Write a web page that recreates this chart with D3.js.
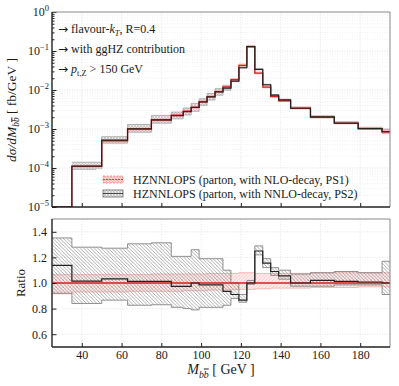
<!DOCTYPE html>
<html><head><meta charset="utf-8">
<script src="https://cdn.jsdelivr.net/npm/d3@7"></script>
<style>
body{margin:0;background:#fff;}
</style></head><body>
<svg id="c" width="399" height="386"></svg>
<script>
// ---------------- data ----------------
const binEdges   = [25,35,50,63,75,85,91,95,99,103,107,111,115,119,123,127,131,135,139,145,155,167,179,191,200];
// NLO-decay (PS1) central value, fb/GeV
const nloCentral = [1e-7,1.1e-4,5.0e-4,1.0e-3,1.7e-3,2.25e-3,2.85e-3,3.6e-3,5.0e-3,6.8e-3,9.1e-3,1.2e-2,1.85e-2,4.3e-2,0.13,2.7e-2,1.18e-2,6.8e-3,5.3e-3,3.4e-3,2.0e-3,1.4e-3,1.02e-3,8.5e-4];
// NNLO-decay (PS2) / NLO-decay ratio
const nnloRatio  = [1.138,1.015,1.033,1.013,1.013,0.973,0.973,1.0,0.985,0.985,0.985,0.935,0.91,0.866,1.0,1.25,1.155,1.09,1.055,1.0,1.02,1.013,1.008,1.0];
// uncertainty bands relative to NLO central
const nloBandLo  = [0.915,0.93,0.93,0.935,0.935,0.935,0.94,0.94,0.94,0.945,0.945,0.945,0.95,0.95,0.95,0.955,0.955,0.96,0.96,0.96,0.965,0.965,0.97,0.97];
const nloBandHi  = [1.065,1.065,1.065,1.065,1.07,1.07,1.07,1.07,1.07,1.075,1.075,1.075,1.075,1.08,1.08,1.075,1.075,1.075,1.075,1.075,1.08,1.08,1.08,1.08];
const nnloBandLo = [0.92,0.84,0.866,0.826,0.83,0.81,0.80,0.79,0.81,0.81,0.81,0.826,0.88,0.85,0.99,1.22,1.12,1.06,1.03,0.975,0.975,0.985,0.985,0.91];
const nnloBandHi = [1.352,1.28,1.272,1.306,1.314,1.208,1.208,1.26,1.19,1.19,1.19,1.10,1.0,0.91,1.02,1.29,1.19,1.12,1.10,1.07,1.08,1.09,1.08,1.17];
const xTicks     = [40,60,80,100,120,140,160,180];
const ratioTicks = [0.6,0.8,1.0,1.2,1.4];
const logMajor   = [1e-5,1e-4,1e-3,1e-2,1e-1,1];
const logExp     = ["−5","−4","−3","−2","−1","0"];
const legendLabels = ["HZNNLOPS (parton, with NLO-decay, PS1)","HZNNLOPS (parton, with NNLO-decay, PS2)"];

// ---------------- layout ----------------
const FONT="'Liberation Serif','DejaVu Serif',serif";
const L=52,R=390,TT=12,TB=207,RT=219,RB=347;
const svg=d3.select("#c").attr("font-family",FONT);
const x=d3.scaleLinear().domain([25,195]).range([L,R]);
const yTop=d3.scaleLog().domain([1e-5,1]).range([TB,TT]).clamp(true);
const yRat=d3.scaleLinear().domain([0.5,1.5]).range([RB,RT]);
const RED="#d92020", BLK="#222";

const defs=svg.append("defs");
function clip(id,y0,y1){defs.append("clipPath").attr("id",id).append("rect").attr("x",L).attr("y",y0).attr("width",R-L).attr("height",y1-y0);}
clip("cTop",TT,TB); clip("cRat",RT,RB);
let p=defs.append("pattern").attr("id","pGrayX").attr("patternUnits","userSpaceOnUse").attr("width",3).attr("height",3);
p.append("rect").attr("width",3).attr("height",3).attr("fill","#eeeeee");
p.append("path").attr("d","M0,0L3,3M3,0L0,3").attr("stroke","#a8a8a8").attr("stroke-width",0.5);
p=defs.append("pattern").attr("id","pRedX").attr("patternUnits","userSpaceOnUse").attr("width",3).attr("height",3);
p.append("rect").attr("width",3).attr("height",3).attr("fill","#fcdada");
p.append("path").attr("d","M0,0L3,3M3,0L0,3").attr("stroke","#f09a9a").attr("stroke-width",0.5);
p=defs.append("pattern").attr("id","pGrayB").attr("patternUnits","userSpaceOnUse").attr("width",3.5).attr("height",3.5);
p.append("path").attr("d","M0,0L3.5,3.5M-1,2.5L1,4.5M2.5,-1L4.5,1").attr("stroke","#8c8c8c").attr("stroke-width",0.7);
p=defs.append("pattern").attr("id","pPinkF").attr("patternUnits","userSpaceOnUse").attr("width",3.5).attr("height",3.5);
p.append("rect").attr("width",3.5).attr("height",3.5).attr("fill","#fdeeee");
p.append("path").attr("d","M0,3.5L3.5,0M-1,1L1,-1M2.5,4.5L4.5,2.5").attr("stroke","#f6b4b4").attr("stroke-width",0.7);

// step helpers
function pts(vals,start=0){const a=[];for(let i=start;i<vals.length;i++)a.push({e:binEdges[i],v:vals[i]});a.push({e:binEdges[vals.length],v:vals[vals.length-1]});return a;}
function bandPts(lo,hi,start=0){const a=[];for(let i=start;i<lo.length;i++)a.push({e:binEdges[i],lo:lo[i],hi:hi[i]});const n=lo.length;a.push({e:binEdges[n],lo:lo[n-1],hi:hi[n-1]});return a;}
const lineF=y=>d3.line().x(d=>x(d.e)).y(d=>y(d.v)).curve(d3.curveStepAfter);
const areaF=y=>d3.area().x(d=>x(d.e)).y0(d=>y(d.lo)).y1(d=>y(d.hi)).curve(d3.curveStepAfter);

// ---------------- grids ----------------
const minors=[];for(let e=-5;e<0;e++)for(let k=2;k<10;k++)minors.push(k*Math.pow(10,e));
const grid=svg.append("g").attr("stroke","#d4d4d4").attr("stroke-width",0.6).attr("stroke-dasharray","1,1.5");
[...logMajor.slice(1,-1),...minors].forEach(v=>grid.append("line").attr("x1",L).attr("x2",R).attr("y1",yTop(v)).attr("y2",yTop(v)).attr("stroke",logMajor.includes(v)?"#cfcfcf":"#e8e8e8"));
ratioTicks.forEach(v=>grid.append("line").attr("x1",L).attr("x2",R).attr("y1",yRat(v)).attr("y2",yRat(v)));
xTicks.forEach(v=>{grid.append("line").attr("x1",x(v)).attr("x2",x(v)).attr("y1",TT).attr("y2",TB);grid.append("line").attr("x1",x(v)).attr("x2",x(v)).attr("y1",RT).attr("y2",RB);});

// ---------------- top panel ----------------
const gTop=svg.append("g").attr("clip-path","url(#cTop)");
const nloLoAbs=nloCentral.map((c,i)=>c*nloBandLo[i]), nloHiAbs=nloCentral.map((c,i)=>c*nloBandHi[i]);
const nnLoAbs=nloCentral.map((c,i)=>c*nnloBandLo[i]), nnHiAbs=nloCentral.map((c,i)=>c*nnloBandHi[i]);
const nnCentral=nloCentral.map((c,i)=>c*nnloRatio[i]);
gTop.append("path").attr("d",areaF(yTop)(bandPts(nnLoAbs,nnHiAbs,1))).attr("fill","url(#pGrayX)");
gTop.append("path").attr("d",areaF(yTop)(bandPts(nloLoAbs,nloHiAbs,1))).attr("fill","url(#pRedX)").attr("opacity",0.85);
[nnLoAbs,nnHiAbs].forEach(a=>gTop.append("path").attr("d",lineF(yTop)(pts(a,1))).attr("fill","none").attr("stroke","#888").attr("stroke-width",0.6));
[nloLoAbs,nloHiAbs].forEach(a=>gTop.append("path").attr("d",lineF(yTop)(pts(a,1))).attr("fill","none").attr("stroke","#f3a0a0").attr("stroke-width",0.6));
gTop.append("path").attr("d",lineF(yTop)(pts(nloCentral))).attr("fill","none").attr("stroke",RED).attr("stroke-width",1.3);
gTop.append("path").attr("d",lineF(yTop)(pts(nnCentral))).attr("fill","none").attr("stroke",BLK).attr("stroke-width",1.2);

// ---------------- ratio panel ----------------
const gRat=svg.append("g").attr("clip-path","url(#cRat)");
gRat.append("path").attr("d",areaF(yRat)(bandPts(nloBandLo,nloBandHi))).attr("fill","url(#pPinkF)");
[nloBandLo,nloBandHi].forEach(a=>gRat.append("path").attr("d",lineF(yRat)(pts(a))).attr("fill","none").attr("stroke","#f4a8a8").attr("stroke-width",0.8));
gRat.append("path").attr("d",areaF(yRat)(bandPts(nnloBandLo,nnloBandHi))).attr("fill","url(#pGrayB)");
[nnloBandLo,nnloBandHi].forEach(a=>gRat.append("path").attr("d",lineF(yRat)(pts(a))).attr("fill","none").attr("stroke","#777").attr("stroke-width",0.8));
gRat.append("path").attr("d",lineF(yRat)(pts(nloCentral.map(()=>1)))).attr("fill","none").attr("stroke",RED).attr("stroke-width",1.3);
gRat.append("path").attr("d",lineF(yRat)(pts(nnloRatio))).attr("fill","none").attr("stroke",BLK).attr("stroke-width",1.2);

// ---------------- axes ----------------
function styleAxis(g){g.attr("font-family",FONT);g.select(".domain").remove();g.selectAll("line").attr("stroke","#222").attr("stroke-width",1);g.selectAll("text").attr("font-size",12).attr("fill","#1a1a1a");}
svg.append("g").attr("transform",`translate(0,${TB})`).call(d3.axisBottom(x).tickValues(xTicks).tickSize(-4).tickSizeOuter(0).tickFormat("")).call(styleAxis);
svg.append("g").attr("transform",`translate(0,${RB})`).call(d3.axisBottom(x).tickValues(xTicks).tickSize(-4).tickSizeOuter(0).tickPadding(3).tickFormat(d3.format("d"))).call(styleAxis);
svg.append("g").attr("transform",`translate(${L},0)`).call(d3.axisLeft(yTop).tickValues(logMajor).tickSize(-4.5).tickSizeOuter(0).tickFormat("")).call(styleAxis);
svg.append("g").attr("transform",`translate(${L},0)`).call(d3.axisLeft(yTop).tickValues(minors).tickSize(-2.5).tickSizeOuter(0).tickFormat("")).call(styleAxis);
svg.append("g").attr("transform",`translate(${L},0)`).call(d3.axisLeft(yRat).tickValues(ratioTicks).tickSize(-4.5).tickSizeOuter(0).tickPadding(5).tickFormat(d3.format(".1f"))).call(styleAxis);
// log labels with superscripts
logMajor.forEach((v,i)=>{const t=svg.append("text").attr("x",49).attr("y",yTop(v)+4).attr("text-anchor","end").attr("font-size",12).attr("fill","#1a1a1a");
  t.append("tspan").text("10");t.append("tspan").attr("dy",-5).attr("font-size",8.5).text(logExp[i]);});
// spines
function spines(y0,y1){
  svg.append("line").attr("x1",L).attr("x2",R).attr("y1",y0).attr("y2",y0).attr("stroke","#888").attr("stroke-width",1);
  svg.append("line").attr("x1",R).attr("x2",R).attr("y1",y0).attr("y2",y1).attr("stroke","#888").attr("stroke-width",1);
  svg.append("line").attr("x1",L).attr("x2",R).attr("y1",y1).attr("y2",y1).attr("stroke","#222").attr("stroke-width",1.4);
  svg.append("line").attr("x1",L).attr("x2",L).attr("y1",y0).attr("y2",y1).attr("stroke","#222").attr("stroke-width",1.4);
}
spines(TT,TB); spines(RT,RB);

// ---------------- texts ----------------
function rich(g,segs,fs){segs.forEach(s=>{const sp=g.append("tspan").text(s.t);
  if(s.i)sp.attr("font-style","italic");
  if(s.f)sp.attr("font-family",s.f);
  if(s.ol)sp.style("text-decoration","overline");
  if(s.sub){sp.attr("font-size",fs*0.7).attr("dy",fs*0.25);}
  if(s.subc){sp.attr("font-size",fs*0.7);}
  if(s.back){sp.attr("dy",-fs*0.25);}});}
const AR="'DejaVu Sans',sans-serif";
const ann=[
  [{t:"→",f:AR},{t:" flavour-"},{t:"k",i:1},{t:"T",i:1,sub:1},{t:", R=0.4",back:1}],
  [{t:"→",f:AR},{t:" with ggHZ contribution"}],
  [{t:"→",f:AR},{t:" "},{t:"p",i:1},{t:"t,Z",sub:1},{t:" > 150 GeV",back:1}]
];
const annY=[32.5,52.5,73];
ann.forEach((segs,i)=>rich(svg.append("text").attr("x",58).attr("y",annY[i]).attr("font-size",12).attr("fill","#1a1a1a"),segs,12));

// y label
const yl=svg.append("text").attr("transform","translate(16,110) rotate(-90)").attr("text-anchor","middle").attr("font-size",13.5).attr("fill","#1a1a1a");
rich(yl,[{t:"dσ/dM",i:1},{t:"b",i:1,sub:1},{t:"b",i:1,subc:1,ol:1},{t:" [ fb/GeV ]",back:1}],13.5);
svg.append("text").attr("transform","translate(25,283) rotate(-90)").attr("text-anchor","middle").attr("font-size",13).attr("fill","#1a1a1a").text("Ratio");
const xl=svg.append("text").attr("x",221).attr("y",374).attr("text-anchor","middle").attr("font-size",14).attr("fill","#1a1a1a");
rich(xl,[{t:"M",i:1},{t:"b",i:1,sub:1},{t:"b",i:1,subc:1,ol:1},{t:" [ GeV ]",back:1}],14);

// legend
const lg=svg.append("g");
lg.append("rect").attr("x",96).attr("y",169).attr("width",240).attr("height",32).attr("fill","#fff").attr("opacity",0.85);
const rows=[{y:179.5,fill:"url(#pRedX)",edge:"#f08080",line:RED,dash:"2,1.5"},{y:193.5,fill:"url(#pGrayX)",edge:"#666",line:BLK,dash:null}];
rows.forEach((r,i)=>{
  lg.append("rect").attr("x",103).attr("y",r.y-3.5).attr("width",20).attr("height",7).attr("fill",r.fill).attr("stroke",r.edge).attr("stroke-width",0.8).attr("stroke-dasharray",r.dash);
  lg.append("line").attr("x1",103).attr("x2",123).attr("y1",r.y).attr("y2",r.y).attr("stroke",r.line).attr("stroke-width",0.8).attr("stroke-dasharray",i===0?"2,1":null);
  lg.append("text").attr("x",133).attr("y",r.y+4).attr("font-size",12).attr("fill","#1a1a1a").text(legendLabels[i]);
});
</script></body></html>
